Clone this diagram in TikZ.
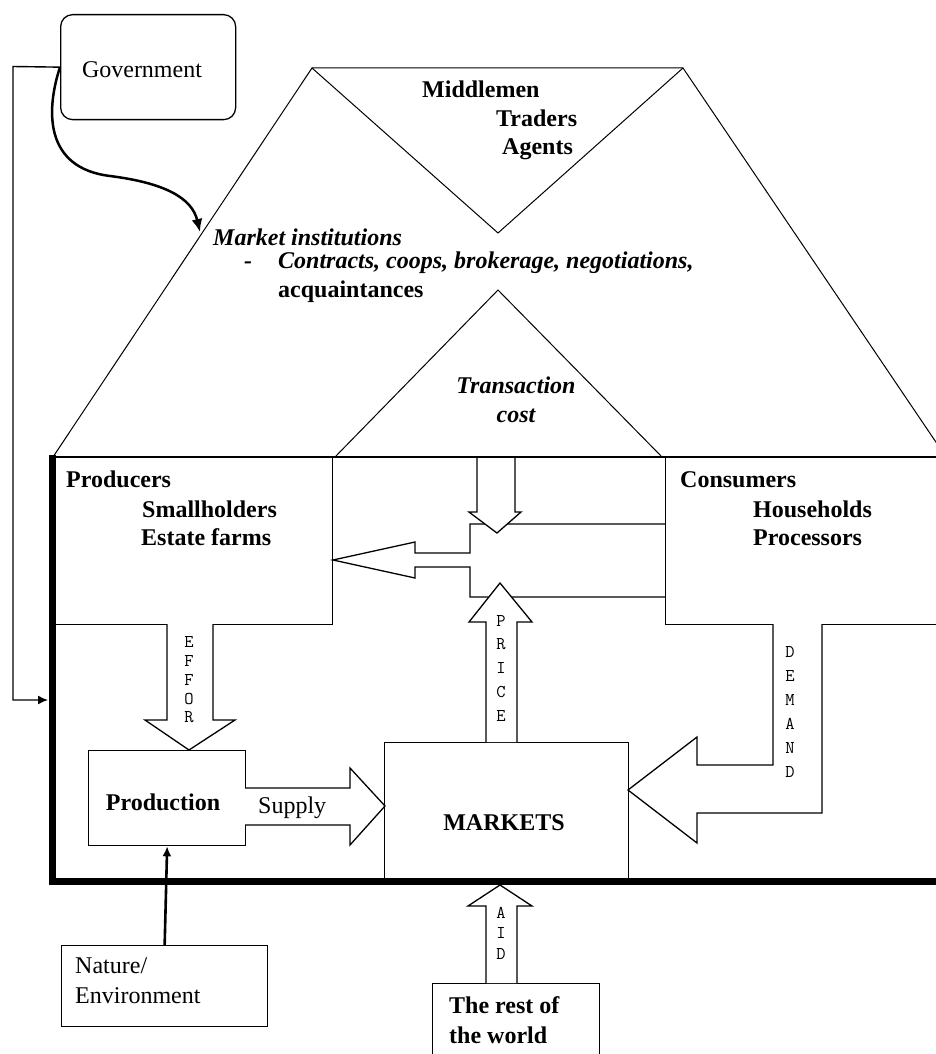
\documentclass[tikz,border=0pt]{standalone}
\usepackage{fontspec}
\setmainfont{Liberation Serif}
\usetikzlibrary{arrows.meta}
\begin{document}
\begin{tikzpicture}[x=1pt,y=-1pt,
  fineline/.style={line width=1pt},
  boxstyle/.style={draw, line width=1.3pt, inner sep=0pt, fill=white},
  txt/.style={font=\fontsize{24}{29}\selectfont, inner sep=0pt, anchor=base west},
  txtb/.style={font=\fontsize{24}{29}\selectfont\bfseries, inner sep=0pt, anchor=base west},
  txtbi/.style={font=\fontsize{24}{29}\selectfont\bfseries\itshape, inner sep=0pt, anchor=base west},
  hollow/.style={draw, line width=1.3pt, fill=white, line join=miter},
  vlet/.style={font=\ttfamily\fontsize{18}{#1}\selectfont, inner sep=0pt, align=center},
]
\useasboundingbox (0,0) rectangle (936,1054);

% ---------- market institutions trapezoid and triangles ----------
\coordinate (apexL) at (312,68);
\coordinate (apexR) at (683,68);
\coordinate (vee) at (498,233);
\coordinate (cornerL) at (53,457);
\coordinate (cornerR) at (946,457);
\coordinate (tcL) at (335,457);
\coordinate (tcTop) at (498,290);
\coordinate (tcR) at (662,457);
\draw[fineline] (cornerL) -- (apexL) -- (apexR) -- (cornerR);
\draw[fineline] (apexL) -- (vee) -- (apexR);
\draw[fineline] (tcL) -- (tcTop) -- (tcR);

\node[txtb] (mid) at (422,98) {Middlemen};
\node[txtb] (trad) at (496,126) {Traders};
\node[txtb] (agen) at (502,154) {Agents};
\node[txtbi] (mi) at (213,245) {Market institutions};
\node[txtbi] (dash) at (244,268) {-};
\node[txtbi] (contr) at (278,268) {Contracts, coops, brokerage, negotiations,};
\node[txtb] (acq) at (278,297) {acquaintances};
\node[txtbi, anchor=base] (tc1) at (516,393) {Transaction};
\node[txtbi, anchor=base] (tc2) at (516,422) {cost};

% ---------- government ----------
\node[boxstyle, rounded corners=12pt, minimum width=175pt, minimum height=105pt, anchor=north west] (gov) at (60,14) {};
\node[txt, anchor=base] (govt) at (142,78) {Government};

% ---------- boxes inside frame ----------
\node[boxstyle, minimum width=280pt, minimum height=167pt, anchor=north west] (prod) at (52,457) {};
\node[boxstyle, minimum width=290pt, minimum height=167pt, anchor=north west] (cons) at (665,457) {};
\node[boxstyle, minimum width=244pt, minimum height=139pt, anchor=north west] (mkt) at (384,742) {};
\node[boxstyle, minimum width=157pt, minimum height=95pt, anchor=north west] (prodn) at (88,750) {};
\node[boxstyle, minimum width=206pt, minimum height=81pt, anchor=north west] (nat) at (61,945) {};
\node[boxstyle, minimum width=167pt, minimum height=90pt, anchor=north west] (row) at (432,983) {};

% ---------- block arrows ----------
% consumers -> producers
\draw[hollow, fill=none] (665,524) -- (470,524) -- (470,553) -- (415,553) -- (415,542) -- (333,560)
   -- (415,578) -- (415,567) -- (470,567) -- (470,597) -- (665,597);
% transaction cost down arrow
\draw[hollow] (477,457) -- (477,512) -- (469,512) -- (497,533) -- (521,512) -- (515,512) -- (515,457);
% price
\draw[hollow] (486,742) -- (486,622) -- (469,622) -- (500,583) -- (532,622) -- (517,622) -- (517,742);
% effort
\draw[hollow] (167,624) -- (167,720) -- (145,720) -- (189,750) -- (235,720) -- (213,720) -- (213,624);
% supply
\draw[hollow] (245,788) -- (350,788) -- (350,768) -- (385,806) -- (350,845) -- (350,825) -- (245,825);
% demand
\draw[hollow] (773,624) -- (773,765) -- (697,765) -- (697,737) -- (628,790) -- (697,843) -- (697,813)
   -- (822,813) -- (822,624);
% aid
\draw[hollow] (486,983) -- (486,906) -- (468,906) -- (500,885) -- (532,906) -- (517,906) -- (517,983);

\node[vlet=18.75] (efft) at (189,680) {E\\F\\F\\O\\R};
\node[vlet=23.75] (pricet) at (501,668) {P\\R\\I\\C\\E};
\node[vlet=24] (demt) at (790,712) {D\\E\\M\\A\\N\\D};
\node[vlet=20.5] (aidt) at (501,933) {A\\I\\D};

% ---------- texts in boxes ----------
\node[txtb] (p1) at (66,487) {Producers};
\node[txtb] (p2) at (142,517) {Smallholders};
\node[txtb] (p3) at (141,545) {Estate farms};
\node[txtb] (c1) at (680,487) {Consumers};
\node[txtb] (c2) at (753,517) {Households};
\node[txtb] (c3) at (753,545) {Processors};
\node[txtb, anchor=base] (mktt) at (504,830) {MARKETS};
\node[txtb, anchor=base] (prodnt) at (163,810) {Production};
\node[txt] (sup) at (258,813) {Supply};
\node[txt] (n1) at (75,973) {Nature/};
\node[txt] (n2) at (75,1003) {Environment};
\node[txtb] (r1) at (449,1013) {The rest of};
\node[txtb] (r2) at (449,1043) {the world};

% ---------- frame ----------
\draw[line width=2.5pt] (51,457) -- (940,457);
\draw[line width=7pt, line join=miter] (52,455) -- (52,881.5) -- (940,881.5);

% ---------- connectors ----------
\coordinate (fb1) at (13,66.5);
\coordinate (fb2) at (13,700);
\coordinate (fbEnd) at (48,700);
\draw[line width=1.4pt, -{Latex[length=10pt,width=9pt]}] (gov.west) -- (fb1) -- (fb2) -- (fbEnd);
\coordinate (miIn) at (200,232);
\draw[line width=2.5pt, -{Latex[length=13pt,width=11pt]}] (gov.west) .. controls (46,110) and (44,168) .. (110,176)
   .. controls (165,183) and (192,198) .. (miIn);
\draw[line width=2.6pt, -{Latex[length=10pt,width=9pt]}] (nat.north) -- (prodn.south);
\end{tikzpicture}
\end{document}
